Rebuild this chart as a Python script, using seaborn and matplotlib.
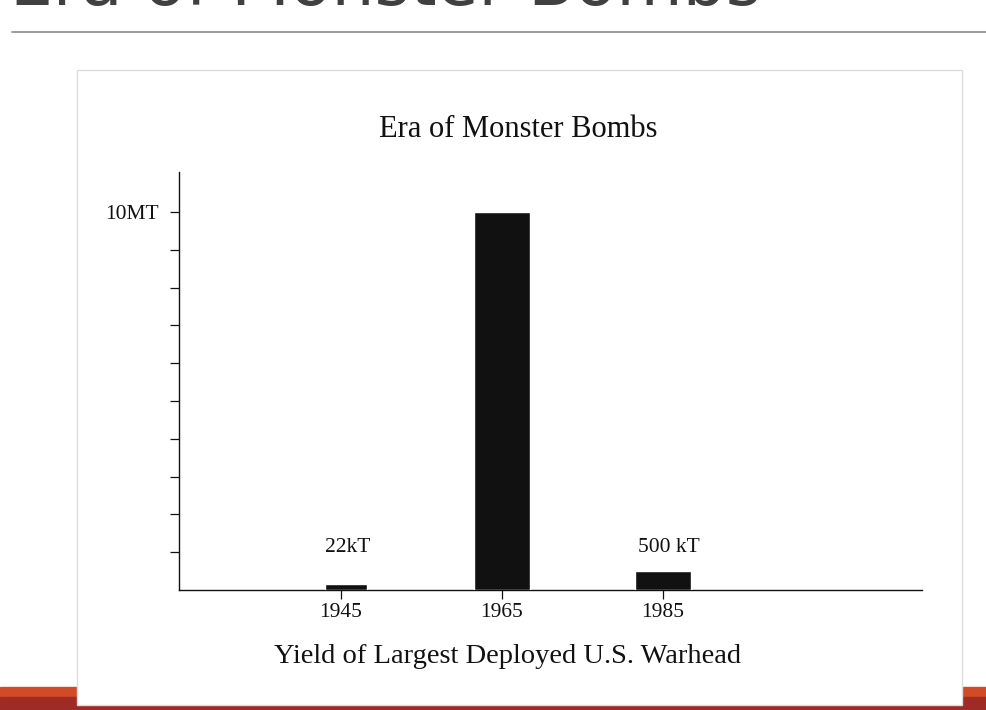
import pandas as pd
import matplotlib.pyplot as plt
import matplotlib.patches as mpatches
from matplotlib.lines import Line2D
import seaborn as sns

# data (yield in megatons)
years = [1945, 1965, 1985]
yields_mt = [0.16, 10.0, 0.5]
bar_labels = ['22kT', '', '500 kT']
ytick_vals = [1, 2, 3, 4, 5, 6, 7, 8, 9, 10]
ytick_labels = ['', '', '', '', '', '', '', '', '', '10MT']

df = pd.DataFrame({'year': years, 'yield': yields_mt})

sns.set_style('white')
plt.rcParams['font.family'] = ['Liberation Serif', 'DejaVu Serif']
plt.rcParams['text.color'] = '#111111'
plt.rcParams['axes.labelcolor'] = '#111111'
plt.rcParams['xtick.color'] = '#111111'
plt.rcParams['ytick.color'] = '#111111'

fig = plt.figure(figsize=(9.86, 7.1), dpi=100)
fig.patch.set_facecolor('white')

# slide decoration: cut-off title, rule, red band
fig.text(10 / 986, 1 - 5 / 710, 'Era of Monster Bombs', family='DejaVu Sans',
         fontsize=49, color='#404040', va='baseline', ha='left')
fig.add_artist(Line2D([12 / 986, 1], [1 - 32 / 710] * 2, color='#8a8a8a', lw=1.2))
fig.add_artist(mpatches.Rectangle((0, 13 / 710), 1, 10 / 710, transform=fig.transFigure,
                                  color='#d24b26', zorder=-2))
fig.add_artist(mpatches.Rectangle((0, 0), 1, 13 / 710, transform=fig.transFigure,
                                  color='#9e2b25', zorder=-2))
# scanned page
fig.add_artist(mpatches.Rectangle((77 / 986, 5 / 710), 885 / 986, 635 / 710,
                                  transform=fig.transFigure, facecolor='white',
                                  edgecolor='#dcdcdc', lw=1, zorder=-1))

ax = fig.add_axes([179 / 986, 1 - 590 / 710, (922 - 179) / 986, (590 - 172) / 710])
ax.set_facecolor('none')
# native_scale: width is a fraction of the 20-year spacing
sns.barplot(data=df, x='year', y='yield', native_scale=True, color='#111111',
            width=0.35, saturation=1, ax=ax, zorder=3)
# the 1945 bar is drawn narrower in the original
p = ax.patches[0]
cx = p.get_x() + p.get_width() / 2
p.set_width(5.2)
p.set_x(cx - 2.6 + 0.6)

for x, lab in zip(years, bar_labels):
    if lab:
        ax.text(x + 0.8, 1.0, lab, ha='center', va='baseline', fontsize=15.5, zorder=5)

ax.set_xlim(1924.9, 2017.2)
ax.set_ylim(0, 11.06)
ax.set_xticks(years)
ax.set_xticklabels([str(y) for y in years], fontsize=15.5)
ax.set_yticks(ytick_vals)
ax.set_yticklabels(ytick_labels, fontsize=15.5)
ax.tick_params(axis='both', direction='out', length=6.5, width=0.9,
               left=True, bottom=True)
ax.tick_params(axis='y', pad=8)
ax.tick_params(axis='x', pad=3)
sns.despine(ax=ax)
for s in ['left', 'bottom']:
    ax.spines[s].set_color('#111111')
    ax.spines[s].set_linewidth(1.0)
ax.set_xlabel('Yield of Largest Deployed U.S. Warhead', fontsize=20.5, labelpad=15.5,
              x=(508 - 179) / 743)
ax.set_ylabel('')
ax.set_title('Era of Monster Bombs', fontsize=22, pad=25, x=(518 - 179) / 743)

plt.savefig('out.png', dpi=100)
